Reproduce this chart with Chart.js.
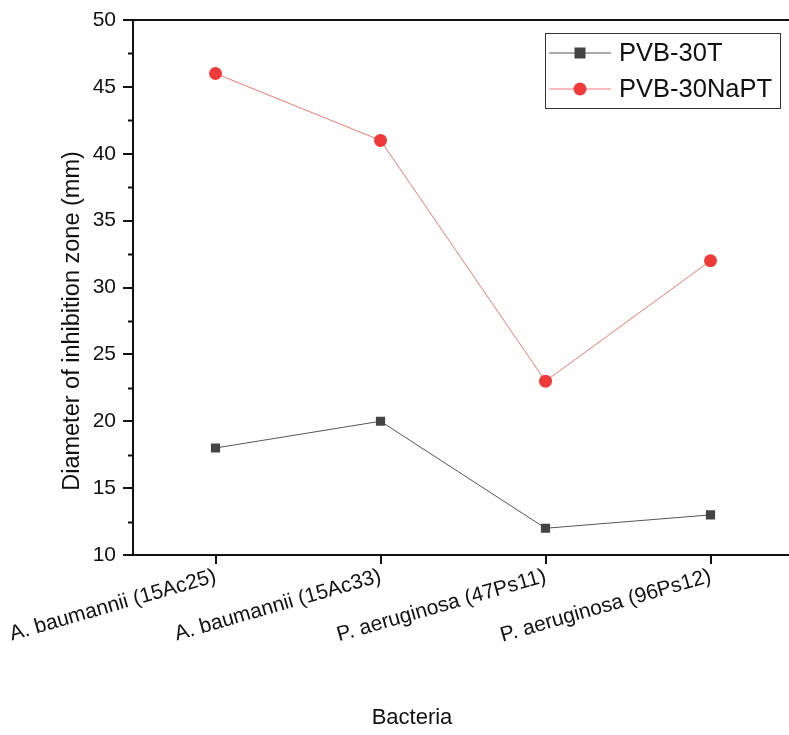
<!DOCTYPE html>
<html>
<head>
<meta charset="utf-8">
<script src="https://cdn.jsdelivr.net/npm/chart.js@4"></script>
<style>
  html, body { margin: 0; padding: 0; background: #fff; overflow: hidden; }
</style>
</head>
<body>
<canvas id="zoneChart" width="800" height="735"></canvas>
<script>
// ===== Data =====
const categories = ['A. baumannii (15Ac25)', 'A. baumannii (15Ac33)', 'P. aeruginosa (47Ps11)', 'P. aeruginosa (96Ps12)'];
const pvb30T = [18, 20, 12, 13];
const pvb30NaPT = [46, 41, 23, 32];
const yMin = 10, yMax = 50, yStep = 5, yMinorStep = 2.5;
const xTitle = 'Bacteria';
const yTitle = 'Diameter of inhibition zone (mm)';

const FONT = "'Liberation Sans', Arial, sans-serif";

// ===== Minor ticks on y axis =====
const minorTicks = {
  id: 'minorTicks',
  afterDraw(chart) {
    const y = chart.scales.y;
    const ctx = chart.ctx;
    ctx.save();
    ctx.strokeStyle = '#111';
    ctx.lineWidth = 2;
    for (let v = yMin + yMinorStep; v < yMax; v += yStep) {
      const py = Math.round(y.getPixelForValue(v)) + 0.5;
      ctx.beginPath();
      ctx.moveTo(chart.chartArea.left - 5, py);
      ctx.lineTo(chart.chartArea.left, py);
      ctx.stroke();
    }
    ctx.restore();
  }
};

// ===== Axis titles (placed like the original, not centred) =====
const axisTitles = {
  id: 'axisTitles',
  afterDraw(chart) {
    const ctx = chart.ctx;
    ctx.save();
    ctx.fillStyle = '#111';
    ctx.font = '22px ' + FONT;
    ctx.textAlign = 'center';
    ctx.textBaseline = 'middle';
    ctx.fillText(xTitle, 412, 718);
    ctx.translate(73, 321);
    ctx.rotate(-Math.PI / 2);
    ctx.font = '23.5px ' + FONT;
    ctx.fillText(yTitle, 0, 0);
    ctx.restore();
  }
};

// ===== Boxed legend =====
const boxLegend = {
  id: 'boxLegend',
  afterDraw(chart) {
    const ctx = chart.ctx;
    const bx = 545, by = 33, bw = 235, bh = 75;
    ctx.save();
    ctx.strokeStyle = '#333';
    ctx.lineWidth = 1;
    ctx.strokeRect(bx + 0.5, by + 0.5, bw, bh);
    chart.data.datasets.forEach((ds, i) => {
      const cy = by + 20 + i * 36;
      ctx.strokeStyle = ds.borderColor;
      ctx.lineWidth = 1;
      ctx.beginPath();
      ctx.moveTo(bx + 4, cy);
      ctx.lineTo(bx + 66, cy);
      ctx.stroke();
      ctx.fillStyle = ds.pointBackgroundColor;
      if (ds.pointStyle === 'rect') {
        ctx.fillRect(bx + 35 - 5.5, cy - 5.5, 11, 11);
      } else {
        ctx.beginPath();
        ctx.arc(bx + 35, cy, 6.5, 0, Math.PI * 2);
        ctx.fill();
      }
      ctx.fillStyle = '#111';
      ctx.font = '25.5px ' + FONT;
      ctx.textBaseline = 'middle';
      ctx.fillText(ds.label, bx + 74, cy + 1);
    });
    ctx.restore();
  }
};

// ===== Chart =====
new Chart(document.getElementById('zoneChart'), {
  type: 'line',
  data: {
    labels: categories,
    datasets: [{
      label: 'PVB-30T',
      data: pvb30T,
      borderColor: '#555',
      borderWidth: 1,
      pointStyle: 'rect',
      pointRadius: 6.5,
      pointBackgroundColor: '#444',
      pointBorderColor: '#444',
      pointBorderWidth: 0
    }, {
      label: 'PVB-30NaPT',
      data: pvb30NaPT,
      borderColor: '#f07878',
      borderWidth: 1,
      pointStyle: 'circle',
      pointRadius: 6.5,
      pointBackgroundColor: '#f03a3a',
      pointBorderColor: '#f03a3a',
      pointBorderWidth: 0
    }]
  },
  options: {
    responsive: false,
    animation: false,
    devicePixelRatio: 1,
    layout: { padding: { left: 0, top: 20, right: 7, bottom: 0 } },
    plugins: { legend: { display: false }, tooltip: { enabled: false } },
    scales: {
      x: {
        type: 'category',
        offset: true,
        grid: { display: true, drawOnChartArea: false, drawTicks: true, tickLength: 9, color: '#111', lineWidth: 2 },
        border: { display: true, color: '#111', width: 2 },
        ticks: {
          autoSkip: false, minRotation: 16, maxRotation: 16,
          color: '#111', font: { family: FONT, size: 21 }, padding: 0
        },
        afterFit(scale) {
          scale.height = 180;
          scale.paddingLeft = 0;
          scale.paddingRight = 0;
        }
      },
      x2: {
        type: 'category',
        position: 'top',
        offset: true,
        grid: { display: false },
        border: { display: true, color: '#111', width: 2 },
        ticks: { display: false },
        afterFit(scale) { scale.height = 0; }
      },
      y: {
        min: yMin,
        max: yMax,
        ticks: { stepSize: yStep, color: '#111', font: { family: FONT, size: 21 }, padding: 7 },
        grid: { display: true, drawOnChartArea: false, drawTicks: true, tickLength: 10, color: '#111', lineWidth: 2 },
        border: { display: true, color: '#111', width: 2 },
        afterFit(scale) { scale.width = 133; }
      }
    }
  },
  plugins: [minorTicks, axisTitles, boxLegend]
});
</script>
</body>
</html>
